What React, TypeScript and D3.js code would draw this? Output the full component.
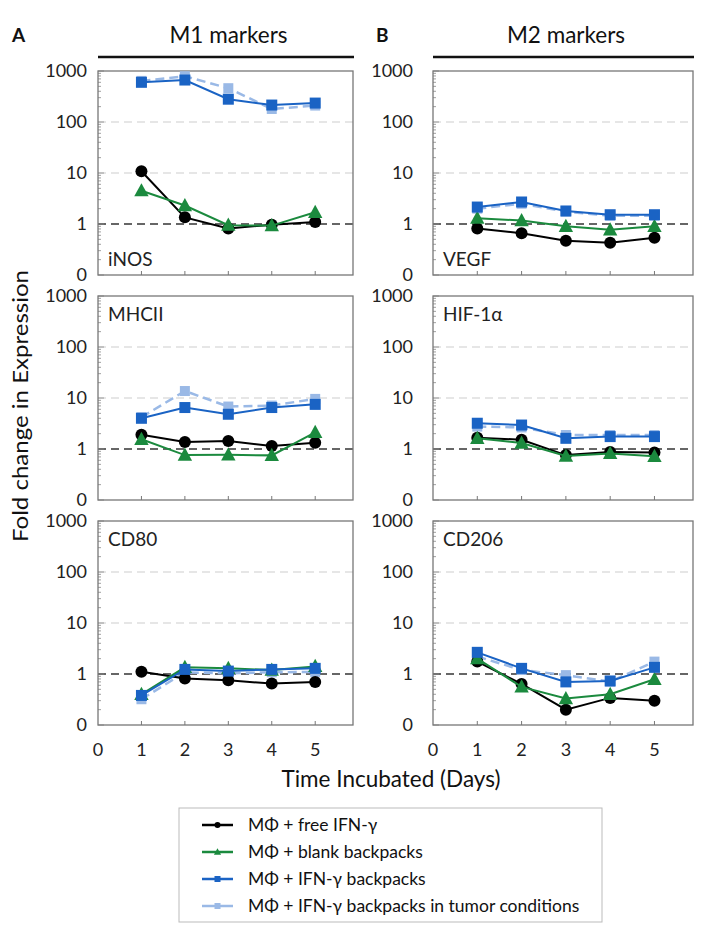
import { useEffect, useRef } from 'react';
import * as d3 from 'd3';

// days on the x axis
const days = [1, 2, 3, 4, 5];

// fold change values per marker and series
const iNOS_free = [10.8, 1.35, 0.82, 0.97, 1.1];
const iNOS_blank = [4.5, 2.3, 0.95, 0.93, 1.7];
const iNOS_ifn = [600, 665, 280, 215, 235];
const iNOS_tumor = [640, 790, 460, 180, 210];

const VEGF_free = [0.82, 0.66, 0.47, 0.43, 0.54];
const VEGF_blank = [1.3, 1.17, 0.9, 0.77, 0.9];
const VEGF_ifn = [2.15, 2.7, 1.8, 1.52, 1.52];
const VEGF_tumor = [2.0, 2.5, 1.75, 1.45, 1.45];

const MHCII_free = [1.9, 1.37, 1.43, 1.14, 1.33];
const MHCII_blank = [1.55, 0.76, 0.77, 0.75, 2.12];
const MHCII_ifn = [4.0, 6.5, 4.8, 6.5, 7.5];
const MHCII_tumor = [4.2, 13.7, 6.8, 7.1, 9.6];

const HIF_free = [1.67, 1.52, 0.76, 0.87, 0.85];
const HIF_blank = [1.62, 1.31, 0.73, 0.82, 0.72];
const HIF_ifn = [3.2, 2.95, 1.62, 1.75, 1.75];
const HIF_tumor = [2.75, 2.65, 1.88, 1.88, 1.88];

const CD80_free = [1.11, 0.82, 0.75, 0.65, 0.7];
const CD80_blank = [0.4, 1.35, 1.29, 1.2, 1.41];
const CD80_ifn = [0.38, 1.23, 1.14, 1.23, 1.29];
const CD80_tumor = [0.32, 1.08, 1.03, 1.08, 1.1];

const CD206_free = [1.75, 0.64, 0.2, 0.34, 0.3];
const CD206_blank = [2.0, 0.56, 0.33, 0.4, 0.79];
const CD206_ifn = [2.66, 1.29, 0.7, 0.73, 1.35];
const CD206_tumor = [2.2, 1.2, 0.95, 0.71, 1.75];

const yTickValues = [0.1, 1, 10, 100, 1000];
const yTickLabels = ['0', '1', '10', '100', '1000'];
const xTickValues = [0, 1, 2, 3, 4, 5];

const seriesNames = [
  'MΦ + free IFN-γ',
  'MΦ + blank backpacks',
  'MΦ + IFN-γ backpacks',
  'MΦ + IFN-γ backpacks in tumor conditions',
];

const panels = [
  { name: 'iNOS', col: 0, row: 0, labelBottom: true, values: [iNOS_free, iNOS_blank, iNOS_ifn, iNOS_tumor] },
  { name: 'VEGF', col: 1, row: 0, labelBottom: true, values: [VEGF_free, VEGF_blank, VEGF_ifn, VEGF_tumor] },
  { name: 'MHCII', col: 0, row: 1, labelBottom: false, values: [MHCII_free, MHCII_blank, MHCII_ifn, MHCII_tumor] },
  { name: 'HIF-1α', col: 1, row: 1, labelBottom: false, values: [HIF_free, HIF_blank, HIF_ifn, HIF_tumor] },
  { name: 'CD80', col: 0, row: 2, labelBottom: false, values: [CD80_free, CD80_blank, CD80_ifn, CD80_tumor] },
  { name: 'CD206', col: 1, row: 2, labelBottom: false, values: [CD206_free, CD206_blank, CD206_ifn, CD206_tumor] },
];

const FONT = 'Lato, "Open Sans", sans-serif';
const colors = ['#000000', '#1b8a3e', '#1a63c4', '#9ab9e6'];
const markers = ['circle', 'triangle', 'square', 'square'];
// light blue drawn first so it sits behind
const drawOrder = [3, 0, 1, 2];

export default function App() {
  const svgRef = useRef<SVGSVGElement>(null);

  useEffect(() => {
    if (!svgRef.current) return;
    const svg = d3.select(svgRef.current);
    svg.selectAll('*').remove();

    const colLeft = [98, 433];
    const colRight = [353, 693];
    const plotH = 204;
    const rowTop = (r: number) => 71 + r * 225;

    const drawMarker = (g: any, type: string, x: number, y: number, color: string, size: number) => {
      if (type === 'circle') {
        g.append('circle').attr('cx', x).attr('cy', y).attr('r', size * 0.5).attr('fill', color);
      } else if (type === 'square') {
        g.append('rect')
          .attr('x', x - size * 0.5).attr('y', y - size * 0.5)
          .attr('width', size).attr('height', size)
          .attr('fill', color);
      } else {
        const h = size * 1.05;
        g.append('path')
          .attr('d', `M${x},${y - h * 0.6}L${x + size * 0.6},${y + h * 0.45}L${x - size * 0.6},${y + h * 0.45}Z`)
          .attr('fill', color);
      }
    };

    // column headers
    const headers = [
      { letter: 'A', title: 'M1 markers', col: 0 },
      { letter: 'B', title: 'M2 markers', col: 1 },
    ];
    headers.forEach(h => {
      const l = colLeft[h.col];
      const r = colRight[h.col];
      svg.append('text')
        .attr('x', h.col === 0 ? 12 : 376)
        .attr('y', 42)
        .attr('font-family', FONT)
        .attr('font-size', '19px')
        .attr('font-weight', 'bold')
        .attr('fill', '#111')
        .text(h.letter);
      svg.append('text')
        .attr('x', (l + r) / 2 + 3)
        .attr('y', 43)
        .attr('text-anchor', 'middle')
        .attr('font-family', FONT)
        .attr('font-size', '22.5px')
        .attr('fill', '#111')
        .text(h.title);
      svg.append('line')
        .attr('x1', l).attr('x2', r + 1)
        .attr('y1', 57).attr('y2', 57)
        .attr('stroke', '#111')
        .attr('stroke-width', 2.5);
    });

    panels.forEach(p => {
      const left = colLeft[p.col];
      const right = colRight[p.col];
      const top = rowTop(p.row);
      const bottom = top + plotH;

      const x = d3.scaleLinear().domain([0, 5.87]).range([left, right]);
      const y = d3.scaleLog().domain([0.1, 1000]).range([bottom, top]);

      const g = svg.append('g');

      // gridlines
      [10, 100].forEach(v => {
        g.append('line')
          .attr('x1', left).attr('x2', right)
          .attr('y1', y(v)).attr('y2', y(v))
          .attr('stroke', '#dedede')
          .attr('stroke-width', 1.5)
          .attr('stroke-dasharray', '8,5');
      });
      g.append('line')
        .attr('x1', left).attr('x2', right)
        .attr('y1', y(1)).attr('y2', y(1))
        .attr('stroke', '#666')
        .attr('stroke-width', 1.8)
        .attr('stroke-dasharray', '8,5');

      // minor/major log ticks inside left edge
      const logTicks = y.ticks();
      logTicks.forEach(v => {
        const major = yTickValues.includes(v);
        g.append('line')
          .attr('x1', left).attr('x2', left + (major ? 6 : 3))
          .attr('y1', y(v)).attr('y2', y(v))
          .attr('stroke', '#888')
          .attr('stroke-width', 0.8);
      });

      // x ticks inside bottom edge
      days.forEach(d => {
        g.append('line')
          .attr('x1', x(d)).attr('x2', x(d))
          .attr('y1', bottom).attr('y2', bottom - 4)
          .attr('stroke', '#777')
          .attr('stroke-width', 1);
      });

      // frame
      g.append('rect')
        .attr('x', left).attr('y', top)
        .attr('width', right - left).attr('height', plotH)
        .attr('fill', 'none')
        .attr('stroke', '#777')
        .attr('stroke-width', 1.3);

      // y tick labels
      yTickValues.forEach((v, i) => {
        g.append('text')
          .attr('x', left - (p.col === 0 ? 11 : 20))
          .attr('y', y(v))
          .attr('dy', '0.36em')
          .attr('text-anchor', 'end')
          .attr('font-family', FONT)
          .attr('font-size', '18px')
          .attr('fill', '#222')
          .text(yTickLabels[i]);
      });

      // x tick labels on bottom row
      if (p.row === 2) {
        xTickValues.forEach(v => {
          g.append('text')
            .attr('x', x(v))
            .attr('y', bottom + 31)
            .attr('text-anchor', 'middle')
            .attr('font-family', FONT)
            .attr('font-size', '18px')
            .attr('fill', '#222')
            .text(v);
        });
      }

      // series
      drawOrder.forEach(si => {
        const vals = p.values[si];
        const line = d3.line<number>()
          .x((_, i) => x(days[i]))
          .y(v => y(v));
        g.append('path')
          .attr('d', line(vals))
          .attr('fill', 'none')
          .attr('stroke', colors[si])
          .attr('stroke-width', si === 3 ? 2.5 : 2)
          .attr('stroke-dasharray', si === 3 ? '9,5' : null);
        vals.forEach((v, i) => {
          drawMarker(g, markers[si], x(days[i]), y(v), colors[si], si === 0 ? 12 : si === 1 ? 12 : si === 2 ? 11 : 10);
        });
      });

      // marker label
      g.append('text')
        .attr('x', left + 10)
        .attr('y', p.labelBottom ? bottom - 9 : top + 25)
        .attr('font-family', FONT)
        .attr('font-size', '19px')
        .attr('fill', '#222')
        .text(p.name);
    });

    // axis titles
    svg.append('text')
      .attr('x', 391)
      .attr('y', 787)
      .attr('text-anchor', 'middle')
      .attr('font-family', FONT)
      .attr('font-size', '22.5px')
      .attr('fill', '#111')
      .text('Time Incubated (Days)');
    svg.append('text')
      .attr('transform', 'translate(28,406) rotate(-90)')
      .attr('text-anchor', 'middle')
      .attr('font-family', FONT)
      .attr('font-size', '21px')
      .attr('textLength', 272)
      .attr('lengthAdjust', 'spacingAndGlyphs')
      .attr('fill', '#111')
      .text('Fold change in Expression');

    // legend
    const legend = svg.append('g');
    legend.append('rect')
      .attr('x', 179).attr('y', 808)
      .attr('width', 423).attr('height', 114)
      .attr('fill', 'white')
      .attr('stroke', '#bbb')
      .attr('stroke-width', 1);
    seriesNames.forEach((name, i) => {
      const cy = 825 + i * 27;
      legend.append('line')
        .attr('x1', 202).attr('x2', 233)
        .attr('y1', cy).attr('y2', cy)
        .attr('stroke', colors[i])
        .attr('stroke-width', 2.5);
      drawMarker(legend, markers[i], 217.5, cy, colors[i], 6);
      legend.append('text')
        .attr('x', 248)
        .attr('y', cy)
        .attr('dy', '0.36em')
        .attr('font-family', FONT)
        .attr('font-size', '17.5px')
        .attr('fill', '#111')
        .text(name);
    });
  }, []);

  return (
    <svg
      ref={svgRef}
      width={713}
      height={933}
      style={{ position: 'absolute', left: 0, top: 0, background: 'white' }}
    />
  );
}
